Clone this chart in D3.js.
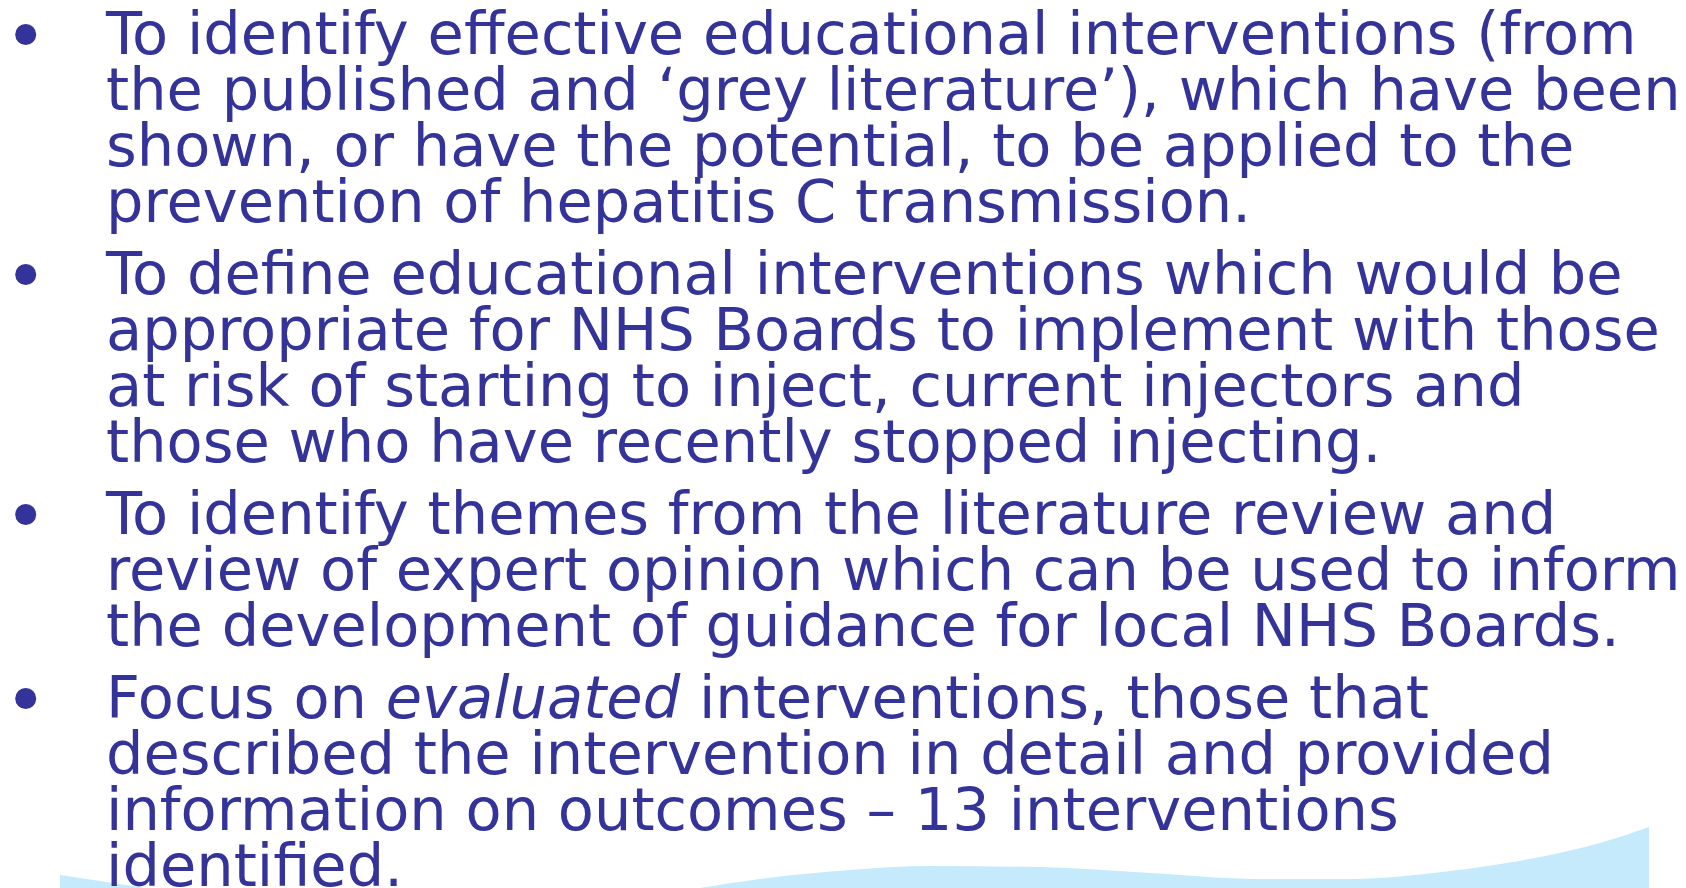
<!DOCTYPE html>
<html>
<head>
<meta charset="utf-8">
<script src="https://cdn.jsdelivr.net/npm/d3@7"></script>
<style>
  html, body { margin: 0; padding: 0; background: #fff; }
  svg { display: block; }
</style>
</head>
<body>
<svg id="slide" width="1686" height="888"></svg>
<script>
// bullet text, one array per bullet (segments marked italic where needed)
var bullet1 = [
    "To identify effective educational interventions (from",
    "the published and \u2018grey literature\u2019), which have been",
    "shown, or have the potential, to be applied to the",
    "prevention of hepatitis C transmission."
];
var bullet2 = [
    "To define educational interventions which would be",
    "appropriate for NHS Boards to implement with those",
    "at risk of starting to inject, current injectors and",
    "those who have recently stopped injecting."
];
var bullet3 = [
    "To identify themes from the literature review and",
    "review of expert opinion which can be used to inform",
    "the development of guidance for local NHS Boards."
];
var bullet4 = [
    [["Focus on ", false], ["evaluated", true], [" interventions, those that", false]],
    "described the intervention in detail and provided",
    "information on outcomes \u2013 13 interventions",
    "identified."
];
var bullets = [bullet1, bullet2, bullet3, bullet4];

// wave outline along the bottom (x, y of the top edge)
var waveRight = [[700, 888], [760, 879], [850, 870], [930, 866], [1040, 867], [1150, 873],
                 [1260, 879], [1350, 879], [1450, 871], [1540, 857], [1600, 843], [1649, 827]];
var waveLeft = [[60, 875], [100, 881], [145, 888]];

var W = 1686, H = 888;
var fontSize = 58, lineGap = 56, bulletGap = 16;
var textX = 106, bulletX = 25.7;
var color = "#333399";

var svg = d3.select("#slide");

// background wave
var area = d3.area().x(function(d) { return d[0]; }).y0(H).y1(function(d) { return d[1]; })
    .curve(d3.curveMonotoneX);
svg.append("path").datum(waveRight).attr("d", area).attr("fill", "#c5eafc");
svg.append("path")
    .attr("d", "M" + waveRight[waveRight.length - 1][0] + "," + waveRight[waveRight.length - 1][1] +
        "L" + waveRight[waveRight.length - 1][0] + "," + H)
    .attr("stroke", "none");
svg.append("path").datum(waveLeft).attr("d", area).attr("fill", "#c5eafc");

// line slots -> baseline y
var slots = [];
var idx = 0;
bullets.forEach(function(b, bi) {
    b.forEach(function(line, li) {
        slots.push({bullet: bi, first: li === 0, line: line, slot: idx, bulletIdx: bi});
        idx++;
    });
});
var y = d3.scaleLinear().domain([0, 1]).range([54.5, 54.5 + lineGap]);
function baseline(d) { return y(d.slot) + bulletGap * d.bulletIdx; }

var textG = svg.append("g");
var texts = textG.selectAll("text").data(slots).enter().append("text")
    .attr("x", 0)
    .attr("y", baseline)
    .attr("font-family", "'DejaVu Sans', Verdana, sans-serif")
    .attr("font-size", fontSize)
    .attr("fill", color);

texts.each(function(d) {
    var t = d3.select(this);
    var parts = typeof d.line === "string" ? [[d.line, false]] : d.line;
    parts.forEach(function(p) {
        t.append("tspan")
            .attr("font-style", p[1] ? "italic" : null)
            .style("white-space", "pre")
            .text(p[0]);
    });
});
texts.attr("xml:space", "preserve");

// squeeze horizontally so line one spans like the original
var w0 = texts.filter(function(d) { return d.slot === 0; }).node().getComputedTextLength();
var sx = 1531 / w0;
textG.attr("transform", "translate(" + textX + ",0) scale(" + sx + ",1)");

// bullets
svg.selectAll("circle.bullet").data(slots.filter(function(d) { return d.first; }))
    .enter().append("circle")
    .attr("class", "bullet")
    .attr("cx", bulletX)
    .attr("cy", function(d) { return baseline(d) - 20; })
    .attr("r", 10.5)
    .attr("fill", color);
</script>
</body>
</html>
